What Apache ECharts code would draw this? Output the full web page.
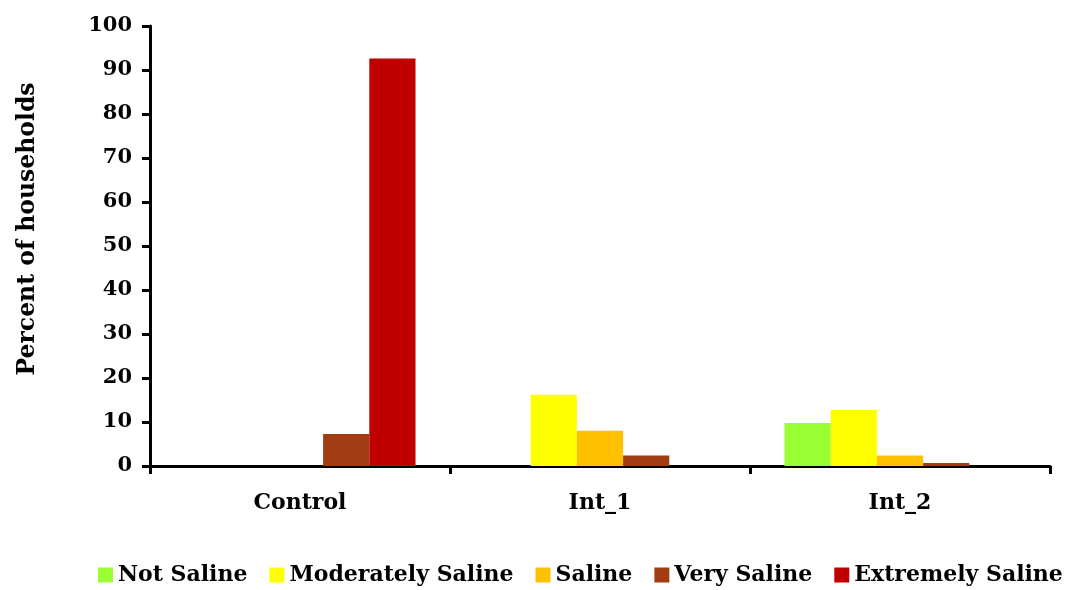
<!DOCTYPE html>
<html>
<head>
<meta charset="utf-8">
<script src="https://cdn.jsdelivr.net/npm/echarts@6/dist/echarts.min.js"></script>
<style>
  html, body { margin: 0; padding: 0; background: #fff; }
  #chart { width: 1074px; height: 590px; }
</style>
</head>
<body>
<div id="chart"></div>
<script>
var categories = ['Control', 'Int_1', 'Int_2'];
var seriesNames = ['Not Saline', 'Moderately Saline', 'Saline', 'Very Saline', 'Extremely Saline'];
var notSaline = [0, 0, 9.8];
var moderatelySaline = [0, 16.2, 12.7];
var saline = [0, 8.0, 2.4];
var verySaline = [7.3, 2.4, 0.7];
var extremelySaline = [92.6, 0, 0];
var colors = ['#99FF33', '#FFFF00', '#FFC000', '#A23C12', '#C00000'];

var allValues = [notSaline, moderatelySaline, saline, verySaline, extremelySaline];
var font = 'DejaVu Serif';

var series = seriesNames.map(function(name, i) {
  return {
    name: name,
    type: 'bar',
    data: allValues[i],
    barGap: 0,
    barCategoryGap: '23%',
    itemStyle: { color: colors[i] }
  };
});

var option = {
  animation: false,
  color: colors,
  grid: { left: 150, right: 24, top: 26, bottom: 124 },
  legend: {
    left: 98,
    bottom: 4,
    width: 980,
    padding: 0,
    itemWidth: 15,
    itemHeight: 15,
    itemGap: 22,
    icon: 'rect',
    textStyle: { fontFamily: font, fontWeight: 'bold', fontSize: 22, color: '#000' },
    data: seriesNames
  },
  xAxis: {
    type: 'category',
    data: categories,
    axisLine: { lineStyle: { color: '#000', width: 3 } },
    axisTick: { show: true, length: 8, lineStyle: { color: '#000', width: 3 } },
    axisLabel: { margin: 26, color: '#000', fontFamily: font, fontWeight: 'bold', fontSize: 22 }
  },
  yAxis: {
    type: 'value',
    min: 0,
    max: 100,
    interval: 10,
    name: 'Percent of households',
    nameLocation: 'middle',
    nameGap: 110,
    nameTextStyle: { color: '#000', fontFamily: font, fontWeight: 'bold', fontSize: 23.5, padding: [0, 0, 0, 34] },
    splitLine: { show: false },
    axisLine: { show: true, lineStyle: { color: '#000', width: 3 } },
    axisTick: { show: true, length: 8, lineStyle: { color: '#000', width: 3 } },
    axisLabel: { margin: 18, color: '#000', fontFamily: font, fontWeight: 'bold', fontSize: 21 }
  },
  series: series
};

var myChart = echarts.init(document.getElementById('chart'));
myChart.setOption(option);
</script>
</body>
</html>
